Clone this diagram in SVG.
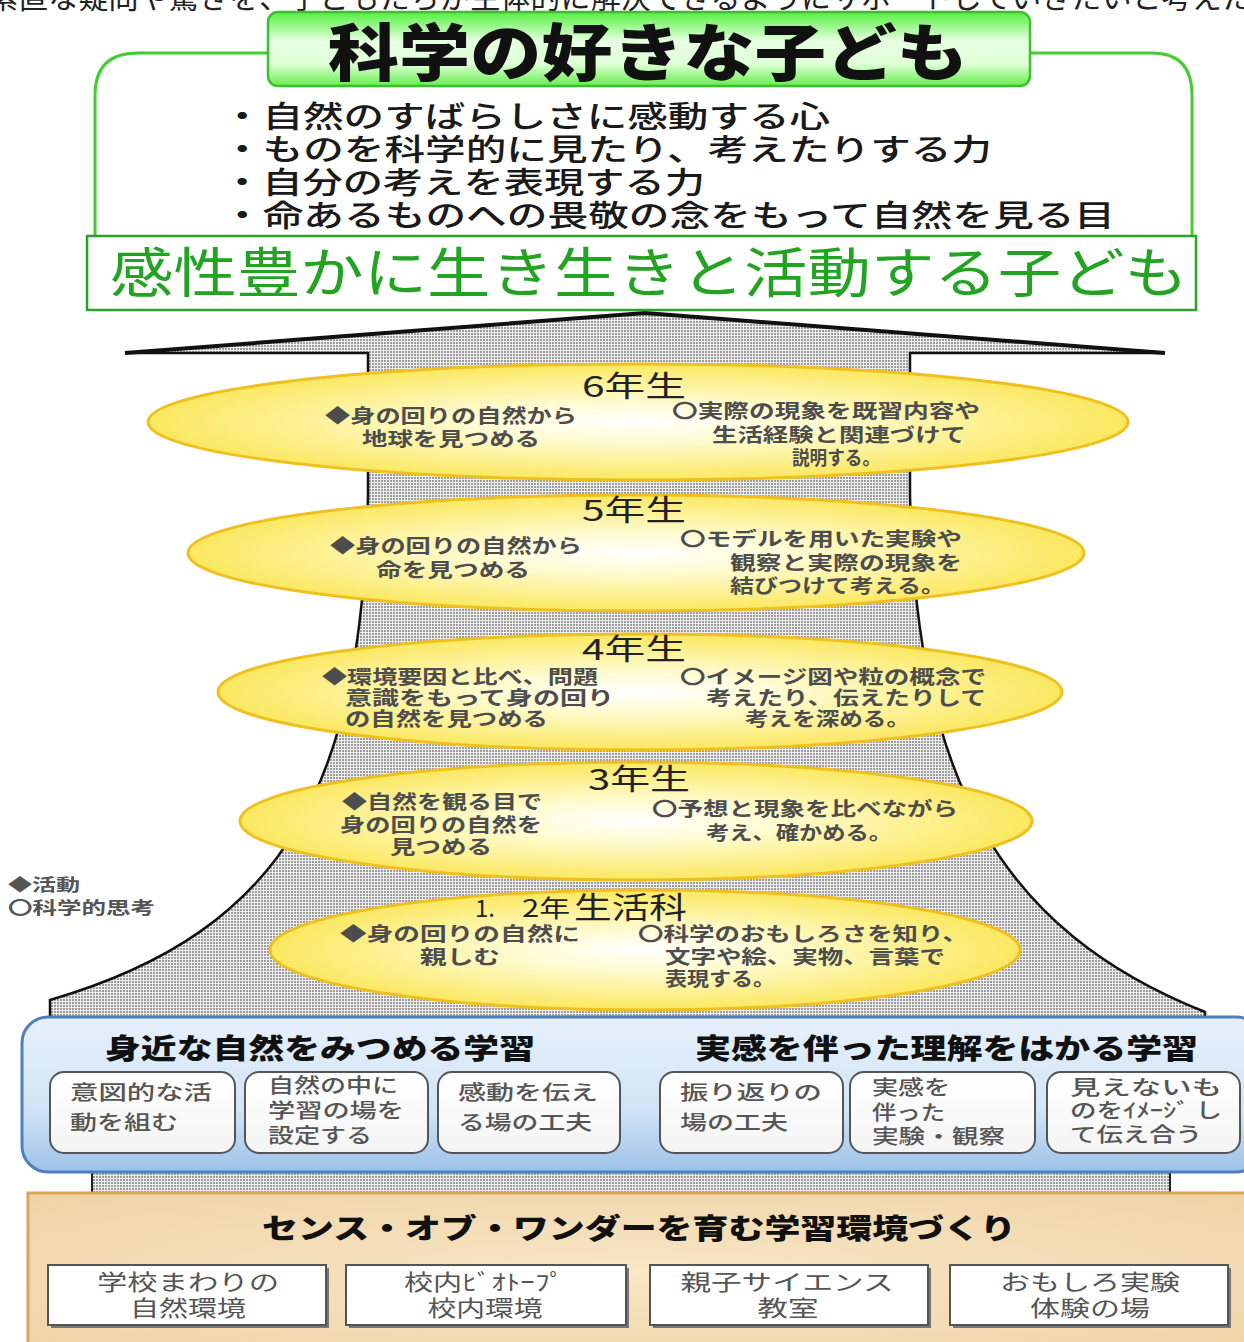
<svg xmlns="http://www.w3.org/2000/svg" width="1244" height="1342" viewBox="0 0 1244 1342">
<defs>
<style>
text{font-family:"Noto Sans CJK JP","Noto Sans",sans-serif;}
.el{fill:url(#yel);stroke:#f0c020;stroke-width:3}
.gt{fill:#4d4d4d;font-size:19px;font-weight:700}
.yt{fill:#222;font-size:29px}
.bt{fill:#555;font-size:20px;font-weight:500}
.tt{fill:#555;font-size:22px}
.ib{fill:url(#wbox);stroke:#555;stroke-width:2}
.tb{fill:#fff;stroke:#555;stroke-width:2}
.hd{fill:#111;font-size:28px;font-weight:900}
.bl{fill:#1a1a1a;font-size:30px;font-weight:500}
</style>
<pattern id="dots" width="3" height="3" patternUnits="userSpaceOnUse">
<rect width="3" height="3" fill="#efefef"/>
<rect width="2" height="2" fill="#9c9c9c"/>
</pattern>
<radialGradient id="yel" cx="0.5" cy="0.5" r="0.5">
<stop offset="0" stop-color="#ffffff"/>
<stop offset="0.35" stop-color="#fffbd0"/>
<stop offset="1" stop-color="#fbe860"/>
</radialGradient>
<linearGradient id="grn" x1="0" y1="0" x2="0" y2="1">
<stop offset="0" stop-color="#55f040"/>
<stop offset="0.4" stop-color="#e8ffe2"/>
<stop offset="0.7" stop-color="#e0ffd8"/>
<stop offset="1" stop-color="#66ee4c"/>
</linearGradient>
<linearGradient id="blu" x1="0" y1="0" x2="0" y2="1">
<stop offset="0" stop-color="#e6f0fb"/>
<stop offset="0.6" stop-color="#d2e4f6"/>
<stop offset="1" stop-color="#9cc2ea"/>
</linearGradient>
<linearGradient id="wbox" x1="0" y1="0" x2="0" y2="1">
<stop offset="0" stop-color="#ffffff"/>
<stop offset="1" stop-color="#f4f4f4"/>
</linearGradient>
<radialGradient id="tan" cx="0.5" cy="0.5" r="0.7">
<stop offset="0" stop-color="#f8e6c6"/>
<stop offset="1" stop-color="#efd3a6"/>
</radialGradient>
</defs>
<rect width="1244" height="1342" fill="#ffffff"/>

<text x="-12" y="8" font-size="30" fill="#222" textLength="1264" lengthAdjust="spacing">素直な疑問や驚きを、子どもたちが主体的に解決できるようにサポートしていきたいと考えた</text>

<!-- arrow / mountain -->
<g id="arrow">
<rect x="92" y="1160" width="1078" height="35" fill="url(#dots)" stroke="#222" stroke-width="2"/>
<path d="M125,353 L645,313 L1165,353 L910,353 L910,495 C916,780 1000,930 1205,1012 L1205,1060 L50,1060 L50,1000 C290,930 362,780 368,495 L368,353 Z" fill="url(#dots)" stroke="#111" stroke-width="2.5"/>
<path d="M125,353 L645,313 L1165,353" fill="none" stroke="#111" stroke-width="4"/>
</g>

<g id="connectors"></g>

<!-- top title -->
<g id="title">
<path d="M268,53 L138,53 Q95,53 95,95 L95,236" fill="none" stroke="#44cc33" stroke-width="3"/>
<path d="M1030,53 L1152,53 Q1192,53 1192,95 L1192,236" fill="none" stroke="#44cc33" stroke-width="3"/>
<rect x="268" y="12" width="762" height="74" rx="10" fill="url(#grn)" stroke="#3cc030" stroke-width="2.5"/>
<text x="328" y="76" font-size="62" font-weight="900" fill="#111" textLength="640" lengthAdjust="spacingAndGlyphs">科学の好きな子ども</text>
</g>

<g id="bullets">
<text class="bl" x="222" y="127" textLength="608" lengthAdjust="spacingAndGlyphs">・自然のすばらしさに感動する心</text>
<text class="bl" x="222" y="160" textLength="770" lengthAdjust="spacingAndGlyphs">・ものを科学的に見たり、考えたりする力</text>
<text class="bl" x="222" y="193" textLength="483" lengthAdjust="spacingAndGlyphs">・自分の考えを表現する力</text>
<text class="bl" x="222" y="226" textLength="893" lengthAdjust="spacingAndGlyphs">・命あるものへの畏敬の念をもって自然を見る目</text>
</g>

<g id="goal">
<rect x="87" y="236" width="1109" height="74" fill="#ffffff" stroke="#2ea02e" stroke-width="2.5"/>
<text x="110" y="293" font-size="54" fill="#22a322" textLength="1078" lengthAdjust="spacingAndGlyphs">感性豊かに生き生きと活動する子ども</text>
</g>

<!-- grade ellipses -->
<g id="g6">
<ellipse class="el" cx="638" cy="422" rx="490" ry="58"/>
<text class="yt" x="582" y="397" textLength="104" lengthAdjust="spacingAndGlyphs">6年生</text>
<text class="gt" x="325" y="423" textLength="252" lengthAdjust="spacingAndGlyphs">◆身の回りの自然から</text>
<text class="gt" x="362" y="446" textLength="178" lengthAdjust="spacingAndGlyphs">地球を見つめる</text>
<text class="gt" x="672" y="418" textLength="308" lengthAdjust="spacingAndGlyphs">〇実際の現象を既習内容や</text>
<text class="gt" x="712" y="442" textLength="254" lengthAdjust="spacingAndGlyphs">生活経験と関連づけて</text>
<text class="gt" x="792" y="465" textLength="88" lengthAdjust="spacingAndGlyphs">説明する。</text>
</g>

<g id="g5">
<ellipse class="el" cx="636" cy="553" rx="448" ry="58"/>
<text class="yt" x="582" y="521" textLength="104" lengthAdjust="spacingAndGlyphs">5年生</text>
<text class="gt" x="330" y="553" textLength="252" lengthAdjust="spacingAndGlyphs">◆身の回りの自然から</text>
<text class="gt" x="376" y="577" textLength="154" lengthAdjust="spacingAndGlyphs">命を見つめる</text>
<text class="gt" x="680" y="546" textLength="282" lengthAdjust="spacingAndGlyphs">〇モデルを用いた実験や</text>
<text class="gt" x="730" y="570" textLength="232" lengthAdjust="spacingAndGlyphs">観察と実際の現象を</text>
<text class="gt" x="730" y="593" textLength="215" lengthAdjust="spacingAndGlyphs">結びつけて考える。</text>
</g>

<g id="g4">
<ellipse class="el" cx="640" cy="692" rx="422" ry="58"/>
<text class="yt" x="582" y="660" textLength="104" lengthAdjust="spacingAndGlyphs">4年生</text>
<text class="gt" x="322" y="684" textLength="276" lengthAdjust="spacingAndGlyphs">◆環境要因と比べ、問題</text>
<text class="gt" x="345" y="705" textLength="269" lengthAdjust="spacingAndGlyphs">意識をもって身の回り</text>
<text class="gt" x="345" y="726" textLength="203" lengthAdjust="spacingAndGlyphs">の自然を見つめる</text>
<text class="gt" x="680" y="684" textLength="306" lengthAdjust="spacingAndGlyphs">〇イメージ図や粒の概念で</text>
<text class="gt" x="706" y="705" textLength="280" lengthAdjust="spacingAndGlyphs">考えたり、伝えたりして</text>
<text class="gt" x="745" y="726" textLength="165" lengthAdjust="spacingAndGlyphs">考えを深める。</text>
</g>

<g id="g3">
<ellipse class="el" cx="636" cy="821" rx="396" ry="59"/>
<text class="yt" x="588" y="790" textLength="102" lengthAdjust="spacingAndGlyphs">3年生</text>
<text class="gt" x="342" y="809" textLength="200" lengthAdjust="spacingAndGlyphs">◆自然を観る目で</text>
<text class="gt" x="340" y="832" textLength="202" lengthAdjust="spacingAndGlyphs">身の回りの自然を</text>
<text class="gt" x="390" y="854" textLength="102" lengthAdjust="spacingAndGlyphs">見つめる</text>
<text class="gt" x="652" y="816" textLength="306" lengthAdjust="spacingAndGlyphs">〇予想と現象を比べながら</text>
<text class="gt" x="706" y="840" textLength="186" lengthAdjust="spacingAndGlyphs">考え、確かめる。</text>
</g>

<g id="g12">
<ellipse class="el" cx="645" cy="950" rx="375" ry="60"/>
<text x="475" y="917" fill="#222" font-size="24">1.</text>
<text x="522" y="917" fill="#222" font-size="24" textLength="48" lengthAdjust="spacingAndGlyphs">2年</text>
<text x="574" y="918" fill="#222" font-size="30" textLength="113" lengthAdjust="spacingAndGlyphs">生活科</text>
<text class="gt" x="340" y="941" textLength="240" lengthAdjust="spacingAndGlyphs">◆身の回りの自然に</text>
<text class="gt" x="420" y="964" textLength="80" lengthAdjust="spacingAndGlyphs">親しむ</text>
<text class="gt" x="638" y="941" textLength="330" lengthAdjust="spacingAndGlyphs">〇科学のおもしろさを知り、</text>
<text class="gt" x="665" y="964" textLength="280" lengthAdjust="spacingAndGlyphs">文字や絵、実物、言葉で</text>
<text class="gt" x="665" y="986" textLength="110" lengthAdjust="spacingAndGlyphs">表現する。</text>
</g>

<g id="legend">
<text x="8" y="891" font-size="17" font-weight="700" fill="#555" textLength="72" lengthAdjust="spacingAndGlyphs">◆活動</text>
<text x="8" y="914" font-size="17" font-weight="700" fill="#555" textLength="147" lengthAdjust="spacingAndGlyphs">〇科学的思考</text>
</g>

<!-- blue learning box -->
<g id="learning">
<rect x="22" y="1017" width="1240" height="155" rx="26" fill="url(#blu)" stroke="#4f7fbf" stroke-width="3"/>
<text class="hd" x="105" y="1059" textLength="430" lengthAdjust="spacingAndGlyphs">身近な自然をみつめる学習</text>
<text class="hd" x="695" y="1059" textLength="503" lengthAdjust="spacingAndGlyphs">実感を伴った理解をはかる学習</text>
</g>
<g id="b1">
<rect class="ib" x="50" y="1072" width="185" height="81" rx="14"/>
<text class="bt" x="70" y="1100" textLength="142" lengthAdjust="spacingAndGlyphs">意図的な活</text>
<text class="bt" x="70" y="1130" textLength="108" lengthAdjust="spacingAndGlyphs">動を組む</text>
</g>
<g id="b2">
<rect class="ib" x="245" y="1072" width="183" height="81" rx="14"/>
<text class="bt" x="268" y="1093" textLength="130" lengthAdjust="spacingAndGlyphs">自然の中に</text>
<text class="bt" x="268" y="1118" textLength="136" lengthAdjust="spacingAndGlyphs">学習の場を</text>
<text class="bt" x="268" y="1143" textLength="104" lengthAdjust="spacingAndGlyphs">設定する</text>
</g>
<g id="b3">
<rect class="ib" x="438" y="1072" width="182" height="81" rx="14"/>
<text class="bt" x="458" y="1100" textLength="140" lengthAdjust="spacingAndGlyphs">感動を伝え</text>
<text class="bt" x="458" y="1130" textLength="134" lengthAdjust="spacingAndGlyphs">る場の工夫</text>
</g>
<g id="b4">
<rect class="ib" x="660" y="1072" width="183" height="81" rx="14"/>
<text class="bt" x="680" y="1100" textLength="142" lengthAdjust="spacingAndGlyphs">振り返りの</text>
<text class="bt" x="680" y="1130" textLength="108" lengthAdjust="spacingAndGlyphs">場の工夫</text>
</g>
<g id="b5">
<rect class="ib" x="850" y="1072" width="185" height="81" rx="14"/>
<text class="bt" x="872" y="1095" textLength="78" lengthAdjust="spacingAndGlyphs">実感を</text>
<text class="bt" x="872" y="1120" textLength="73" lengthAdjust="spacingAndGlyphs">伴った</text>
<text class="bt" x="872" y="1144" textLength="133" lengthAdjust="spacingAndGlyphs">実験・観察</text>
</g>
<g id="b6">
<rect class="ib" x="1047" y="1072" width="193" height="81" rx="14"/>
<text class="bt" x="1070" y="1095" textLength="152" lengthAdjust="spacingAndGlyphs">見えないも</text>
<text class="bt" x="1070" y="1118" textLength="152" lengthAdjust="spacingAndGlyphs">のをｲﾒｰｼﾞ し</text>
<text class="bt" x="1070" y="1142" textLength="132" lengthAdjust="spacingAndGlyphs">て伝え合う</text>
</g>

<!-- tan environment box -->
<g id="environment">
<rect x="28" y="1193" width="1230" height="160" fill="url(#tan)" stroke="#dda35a" stroke-width="3"/>
<text class="hd" x="262" y="1239" textLength="754" lengthAdjust="spacingAndGlyphs">センス・オブ・ワンダーを育む学習環境づくり</text>
</g>
<g id="e1">
<rect x="51" y="1268" width="278" height="60" fill="#777"/>
<rect class="tb" x="48" y="1265" width="278" height="60"/>
<text class="tt" x="188" y="1290" text-anchor="middle" textLength="182" lengthAdjust="spacingAndGlyphs">学校まわりの</text>
<text class="tt" x="188" y="1316" text-anchor="middle" textLength="116" lengthAdjust="spacingAndGlyphs">自然環境</text>
</g>
<g id="e2">
<rect x="349" y="1268" width="280" height="60" fill="#777"/>
<rect class="tb" x="346" y="1265" width="280" height="60"/>
<text class="tt" x="484" y="1290" text-anchor="middle" textLength="160" lengthAdjust="spacingAndGlyphs">校内ﾋﾞｵﾄｰﾌﾟ</text>
<text class="tt" x="485" y="1316" text-anchor="middle" textLength="115" lengthAdjust="spacingAndGlyphs">校内環境</text>
</g>
<g id="e3">
<rect x="653" y="1268" width="278" height="60" fill="#777"/>
<rect class="tb" x="650" y="1265" width="278" height="60"/>
<text class="tt" x="787" y="1290" text-anchor="middle" textLength="213" lengthAdjust="spacingAndGlyphs">親子サイエンス</text>
<text class="tt" x="788" y="1316" text-anchor="middle" textLength="61" lengthAdjust="spacingAndGlyphs">教室</text>
</g>
<g id="e4">
<rect x="953" y="1268" width="278" height="60" fill="#777"/>
<rect class="tb" x="950" y="1265" width="278" height="60"/>
<text class="tt" x="1090" y="1290" text-anchor="middle" textLength="180" lengthAdjust="spacingAndGlyphs">おもしろ実験</text>
<text class="tt" x="1090" y="1316" text-anchor="middle" textLength="120" lengthAdjust="spacingAndGlyphs">体験の場</text>
</g>
</svg>
